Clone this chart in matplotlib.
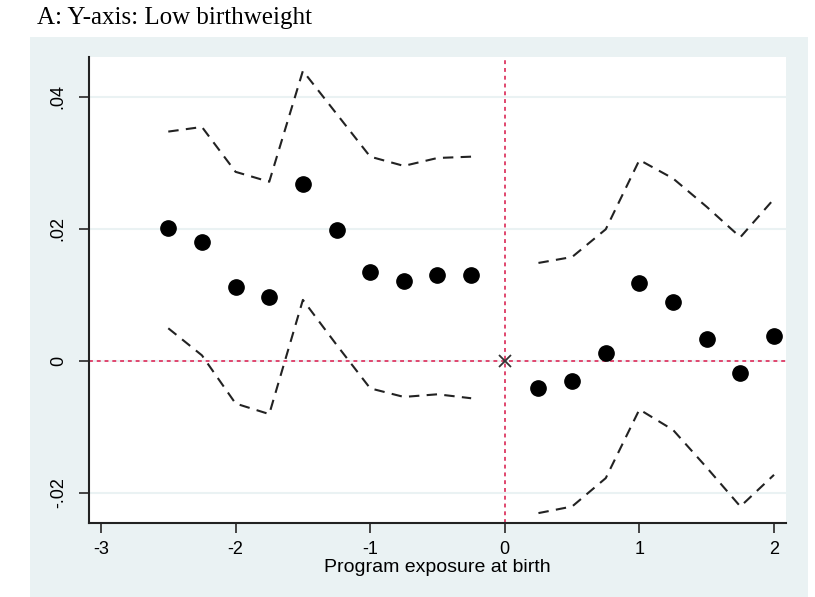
import matplotlib.pyplot as plt
from matplotlib.patches import Rectangle

# exposure (years) before / after program
x_pre = [-2.5, -2.25, -2, -1.75, -1.5, -1.25, -1, -0.75, -0.5, -0.25]
x_post = [0.25, 0.5, 0.75, 1, 1.25, 1.5, 1.75, 2]

# point estimates
b_pre = [0.0201, 0.0180, 0.0112, 0.0096, 0.0267, 0.0198, 0.0135, 0.0121, 0.0130, 0.0129]
b_post = [-0.0041, -0.0031, 0.0012, 0.0117, 0.0089, 0.0033, -0.0018, 0.0038]

# confidence bands
hi_pre = [0.0347, 0.0354, 0.0286, 0.0271, 0.0439, 0.0374, 0.0309, 0.0295, 0.0307, 0.0309]
lo_pre = [0.0049, 0.0008, -0.0065, -0.0081, 0.0092, 0.0024, -0.0042, -0.0055, -0.0051, -0.0057]
hi_post = [0.0148, 0.0157, 0.0199, 0.0304, 0.0276, 0.0233, 0.0187, 0.0245]
lo_post = [-0.0231, -0.0221, -0.0178, -0.0074, -0.0105, -0.0162, -0.0221, -0.0173]

xticks = [-3, -2, -1, 0, 1, 2]
yticks = [-0.02, 0, 0.02, 0.04]
ylabels = ['-.02', '0', '.02', '.04']

plt.rcParams['font.family'] = ['Liberation Sans', 'DejaVu Sans']

fig = plt.figure(figsize=(8.15, 5.97), dpi=100)
bg = Rectangle((30/815, 0), 778/815, 1 - 37/597, transform=fig.transFigure,
               facecolor='#eaf2f3', edgecolor='none', zorder=-10)
fig.add_artist(bg)
fig.text(37/815, 1 - 18/597, 'A: Y-axis: Low birthweight', family='Liberation Serif',
         fontsize=18, va='center', ha='left')

ax = fig.add_axes([89/815, 1 - 523/597, 697/815, 466/597])
ax.set_facecolor('white')

red = '#e0466e'
ax.axhline(0, color=red, lw=1.4, ls=(0, (2, 2)), zorder=2)
ax.axvline(0, color=red, lw=1.4, ls=(0, (2, 2)), zorder=2)
ax.plot([0], [0], marker='x', color='#333333', ms=8, mew=1.3, zorder=4)

dash = (0, (5, 3.5))
for xs, hs, ls in [(x_pre, hi_pre, lo_pre), (x_post, hi_post, lo_post)]:
    ax.plot(xs, hs, color='#222222', lw=1.5, ls=dash, zorder=3)
    ax.plot(xs, ls, color='#222222', lw=1.5, ls=dash, zorder=3)
ax.plot(x_pre, b_pre, 'o', color='black', ms=11, zorder=5)
ax.plot(x_post, b_post, 'o', color='black', ms=11, zorder=5)

ax.set_xlim(-3.089, 2.089)
ax.set_ylim(-0.0246, 0.046)
ax.set_xticks(xticks)
ax.set_xticklabels([str(t) for t in xticks])
ax.set_yticks(yticks)
ax.set_yticklabels(ylabels, rotation=90, va='center')
for y in yticks:
    ax.axhline(y, color='#eaf2f3', lw=1.5, zorder=1)

for s in ['top', 'right']:
    ax.spines[s].set_visible(False)
for s in ['left', 'bottom']:
    ax.spines[s].set_linewidth(1.5)
    ax.spines[s].set_color('#222222')
ax.tick_params(direction='out', length=7, width=1.4, color='#444444', labelsize=13, pad=6)
ax.tick_params(axis='y', pad=9)
ax.set_xlabel('Program exposure at birth', fontsize=14, labelpad=1)

fig.savefig('out.png')
